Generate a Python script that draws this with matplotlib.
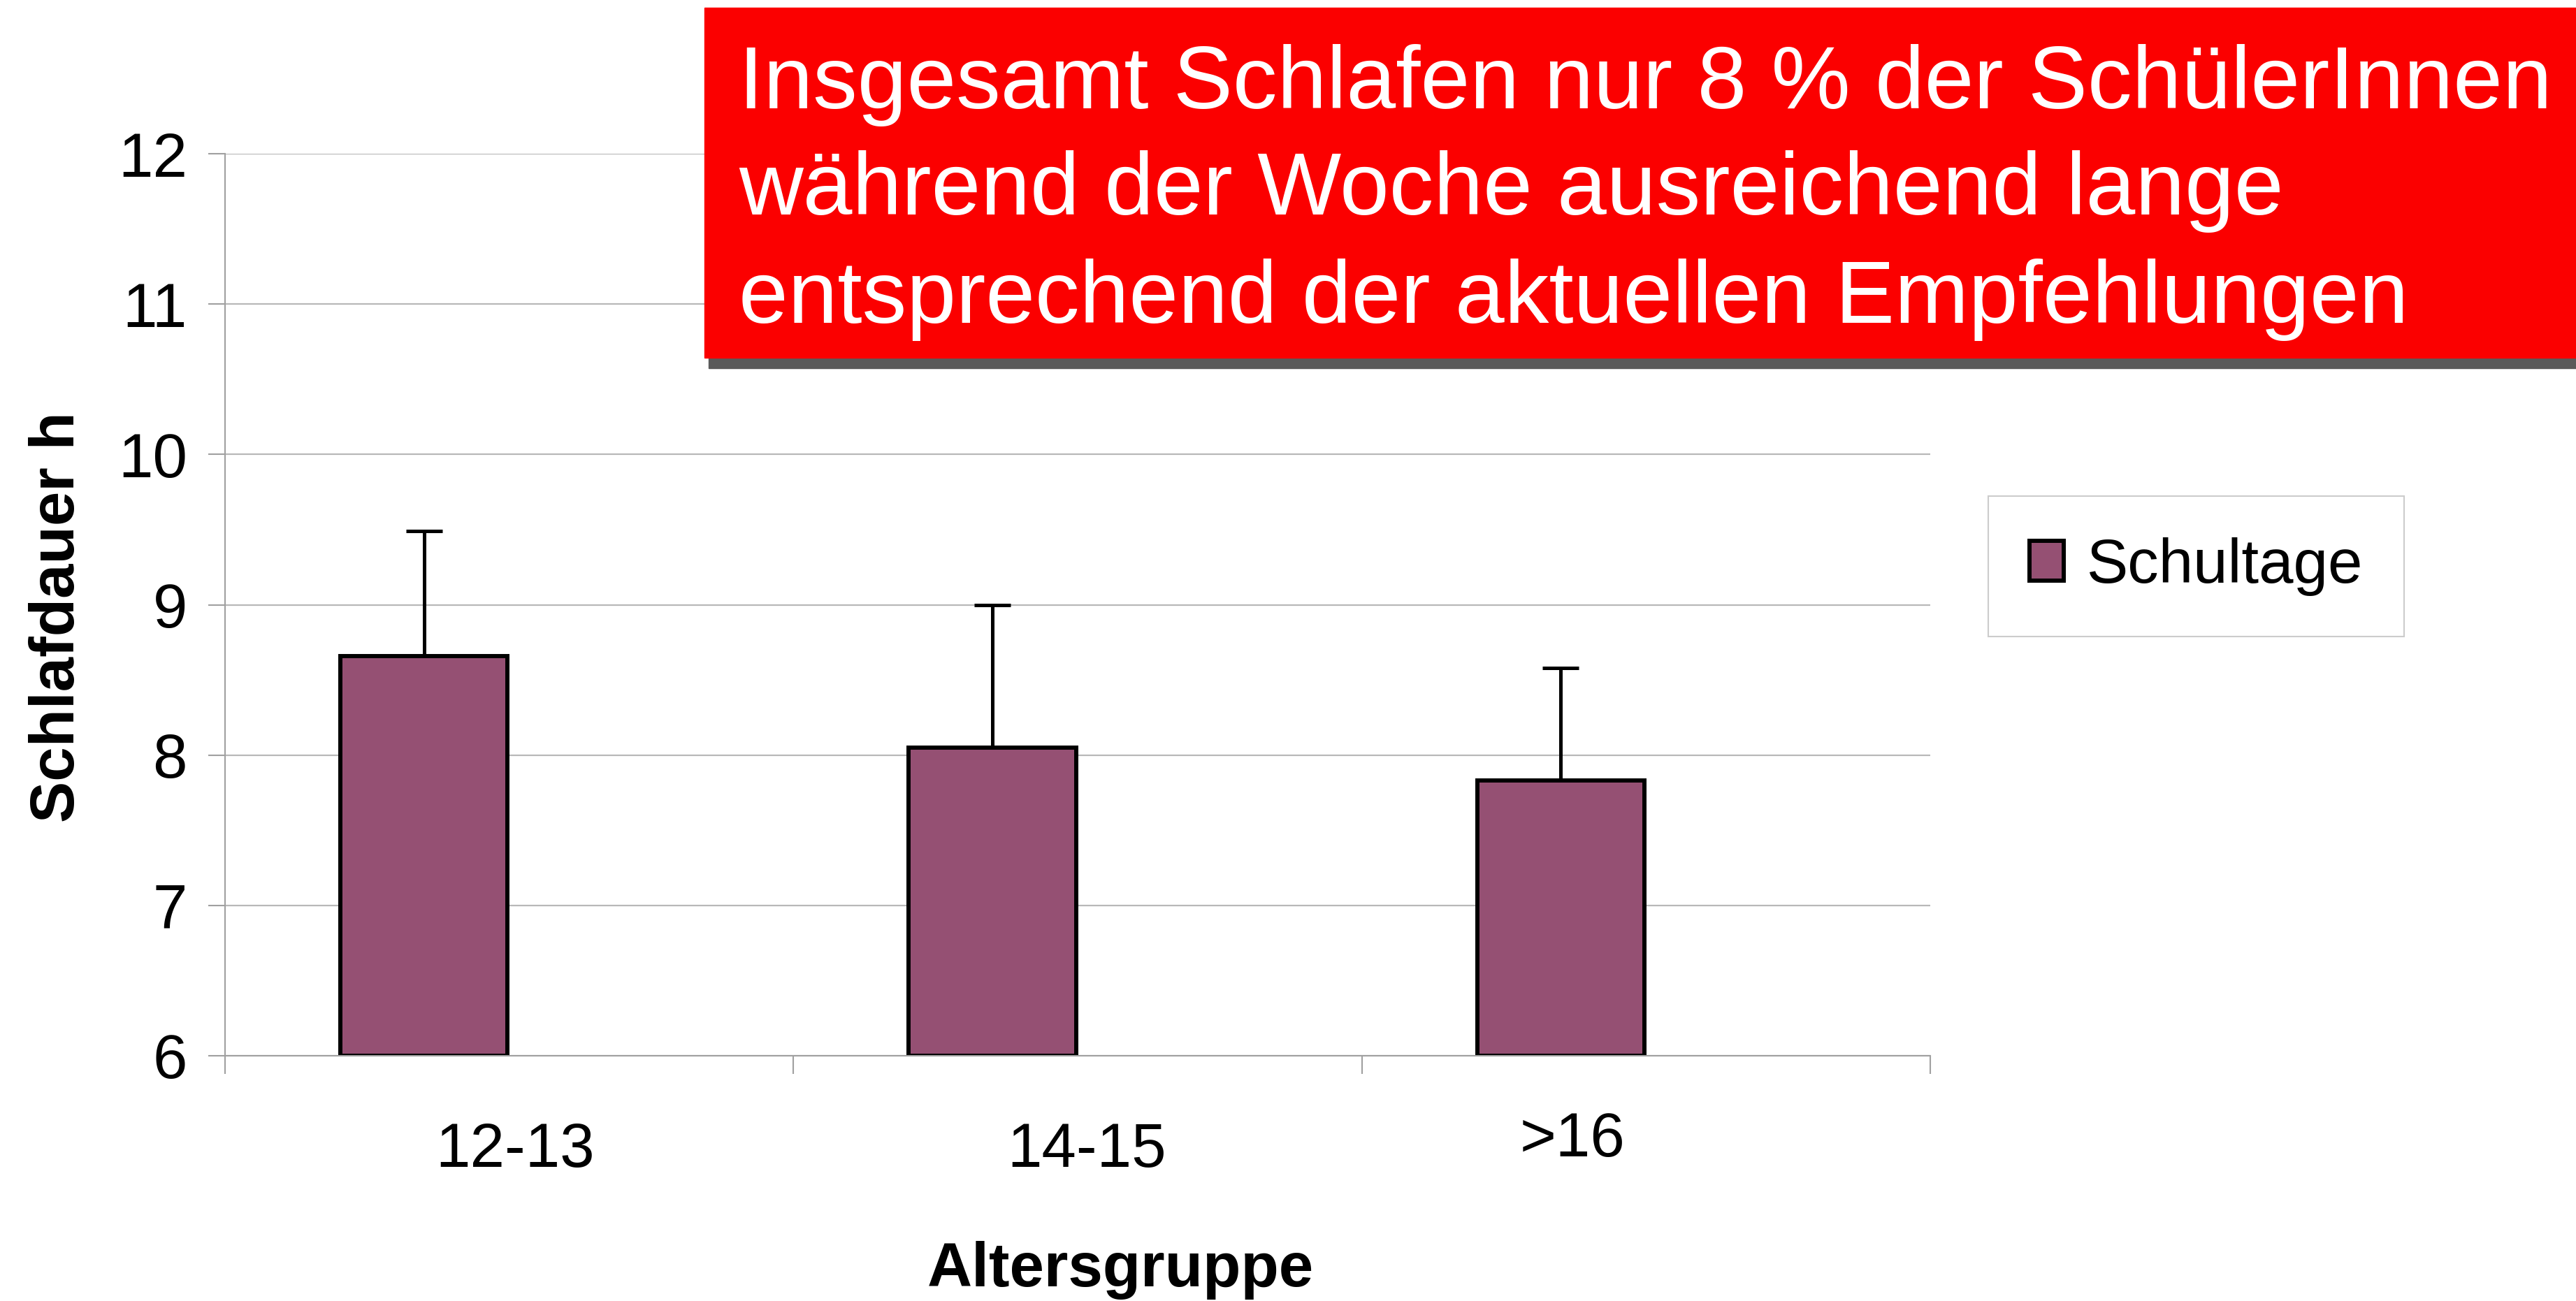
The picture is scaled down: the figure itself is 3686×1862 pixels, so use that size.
import numpy as np
import matplotlib.pyplot as plt
from matplotlib.patches import Rectangle
from matplotlib.transforms import ScaledTranslation

plt.rcParams['font.family'] = ['Liberation Sans', 'DejaVu Sans']

# data
cats = ['12-13', '14-15', '>16']
means = [8.66, 8.05, 7.83]
sd_up = [0.83, 0.95, 0.75]
series_name = 'Schultage'
ylabel = 'Schlafdauer h'
xlabel = 'Altersgruppe'
note_lines = ['Insgesamt Schlafen nur 8 % der SchülerInnen',
              'während der Woche ausreichend lange',
              'entsprechend der aktuellen Empfehlungen']
ymin, ymax = 6, 12

W, H = 3687, 1862
fig = plt.figure(figsize=(W / 100, H / 100), dpi=100)
ax = fig.add_axes([322 / W, 1 - 1511 / H, 2440 / W, 1291 / H])

bar_col = '#955073'
grid_col = '#b8b8b8'
x = np.arange(len(cats))
xb = x - 0.15
heights = np.array(means) - ymin
bars = ax.bar(xb, heights, bottom=ymin, width=0.294, color=bar_col,
              edgecolor='black', linewidth=4.3, zorder=2, label=series_name)
ax.errorbar(xb, means, yerr=[np.zeros(len(cats)), sd_up], fmt='none',
            ecolor='black', elinewidth=3.6, capsize=18.7, capthick=3.6, zorder=3)

ax.set_xlim(-0.5, len(cats) - 0.5)
ax.set_ylim(ymin, ymax)
ax.set_yticks(np.arange(ymin, ymax + 1, 1))
ax.yaxis.grid(True, color=grid_col, linewidth=1.6)
ax.set_axisbelow(True)

for s in ['top', 'right']:
    ax.spines[s].set_visible(False)
for s in ['left', 'bottom']:
    ax.spines[s].set_color('#a0a0a0')
    ax.spines[s].set_linewidth(1.5)

# category boundaries as tick marks, labels as minor ticks
ax.set_xticks(np.arange(-0.5, len(cats), 1.0))
ax.set_xticklabels([])
lab_off = [0.01, 0.016, -0.13]
ax.set_xticks(x + np.array(lab_off), minor=True)
ax.set_xticklabels(cats, minor=True)
ax.tick_params(axis='x', which='major', length=18.7, width=1.5, color='#a0a0a0')
ax.tick_params(axis='x', which='minor', length=0, pad=68, labelsize=64)
ax.tick_params(axis='y', length=17.3, width=1.5, color='#a0a0a0', pad=21.6, labelsize=64)
for lbl in ax.get_xticklabels(minor=True):
    if lbl.get_text() == '>16':
        lbl.set_transform(lbl.get_transform() + ScaledTranslation(0, 0.15, fig.dpi_scale_trans))

ax.set_ylabel(ylabel, fontsize=64, fontweight='bold')
ax.yaxis.set_label_coords(-0.0807, 0.486)
ax.set_xlabel(xlabel, fontsize=64, fontweight='bold')
ax.xaxis.set_label_coords(0.525, -0.205)

leg = ax.legend(loc='upper left', bbox_to_anchor=(2845 / W, 1 - 710 / H),
                bbox_transform=fig.transFigure, fontsize=64, frameon=True,
                fancybox=False, borderpad=0.66, handlelength=0.56, handleheight=0.6,
                handletextpad=0.37, borderaxespad=0)
leg.get_frame().set_edgecolor('#c0c0c0')
leg.get_frame().set_linewidth(1.5)

# red note box with shadow
fig.add_artist(Rectangle((1014 / W, 1 - 527 / H), (W - 1014) / W, 501 / H,
                         transform=fig.transFigure, color='#5a5a5a', zorder=5))
fig.add_artist(Rectangle((1008 / W, 1 - 512 / H), (W - 1008) / W, 501 / H,
                         transform=fig.transFigure, color='#fb0000', zorder=6))
baselines = [155, 307, 462]
for line, yb in zip(note_lines, baselines):
    fig.text(1057 / W, 1 - yb / H, line, color='white', fontsize=91.5,
             va='baseline', ha='left', zorder=7)

fig.savefig('out.png', dpi=100)
